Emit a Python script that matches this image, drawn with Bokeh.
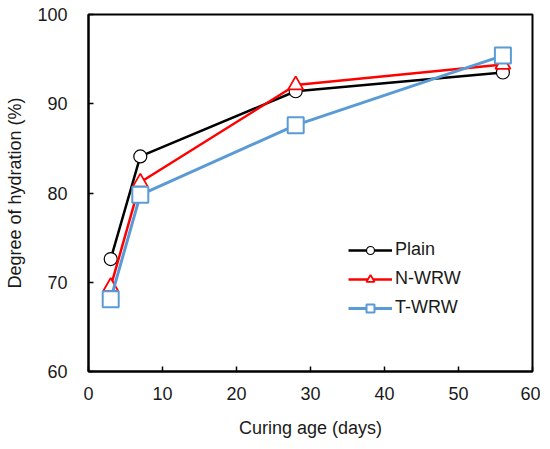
from bokeh.plotting import figure
from bokeh.models import Range1d, FixedTicker, Legend, LegendItem
from bokeh.embed import file_html
from bokeh.resources import INLINE

days = [3, 7, 28, 56]
plain = [72.6, 84.1, 91.4, 93.5]
nwrw = [69.5, 81.2, 92.1, 94.4]
twrw = [68.1, 79.8, 87.6, 95.4]
x_ticks = [0, 10, 20, 30, 40, 50, 60]
y_ticks = [60, 70, 80, 90, 100]

FONT = "Liberation Sans"
TXT = "#1a1a1a"

p = figure(width=540, height=440, output_backend="svg", toolbar_location=None,
           x_range=Range1d(0, 60), y_range=Range1d(60, 100),
           min_border_left=88, min_border_right=8, min_border_top=14, min_border_bottom=67)
p.xgrid.visible = False
p.ygrid.visible = False
p.outline_line_color = "black"
p.outline_line_width = 2
p.outline_line_alpha = 1

for ax in (p.xaxis[0], p.yaxis[0]):
    ax.axis_line_width = 2
    ax.axis_line_color = "black"
    ax.major_tick_in = 5
    ax.major_tick_out = 0
    ax.major_tick_line_width = 1.5
    ax.minor_tick_line_color = None
    ax.major_label_text_font = FONT
    ax.major_label_text_font_size = "18px"
    ax.major_label_text_color = TXT
    ax.axis_label_text_font = FONT
    ax.axis_label_text_font_size = "18px"
    ax.axis_label_text_font_style = "normal"
    ax.axis_label_text_color = TXT

p.xaxis.ticker = FixedTicker(ticks=x_ticks)
p.yaxis.ticker = FixedTicker(ticks=y_ticks)
p.xaxis.axis_label = "Curing age (days)"
p.yaxis.axis_label = "Degree of hydration (%)"
p.xaxis.major_label_standoff = 15
p.yaxis.major_label_standoff = 21
p.xaxis.axis_label_standoff = 15
p.yaxis.axis_label_standoff = 9

blue = "#5B9BD5"
l1 = p.line(days, plain, line_color="black", line_width=2.5)
m1 = p.scatter(days, plain, marker="circle", size=13, fill_color="white", line_color="black", line_width=1.2)
l2 = p.line(days, nwrw, line_color="#FF0000", line_width=2.5)
m2 = p.scatter(days, nwrw, marker="triangle", size=15, fill_color="white", line_color="#FF0000", line_width=1.8)
l3 = p.line(days, twrw, line_color=blue, line_width=3)
m3 = p.scatter(days, twrw, marker="square", size=16, fill_color="white", line_color=blue, line_width=2)

legend = Legend(items=[
    LegendItem(label="Plain", renderers=[l1, m1]),
    LegendItem(label="N-WRW", renderers=[l2, m2]),
    LegendItem(label="T-WRW", renderers=[l3, m3]),
], location=(260, 53))
legend.border_line_color = None
legend.background_fill_alpha = 0
legend.padding = 0
legend.margin = 0
legend.spacing = 8
legend.glyph_width = 44
legend.glyph_height = 20
legend.label_height = 20
legend.label_standoff = 3
legend.label_text_font = FONT
legend.label_text_font_size = "18px"
legend.label_text_color = TXT
p.add_layout(legend, "center")

open("out.html", "w").write(file_html(p, INLINE))
